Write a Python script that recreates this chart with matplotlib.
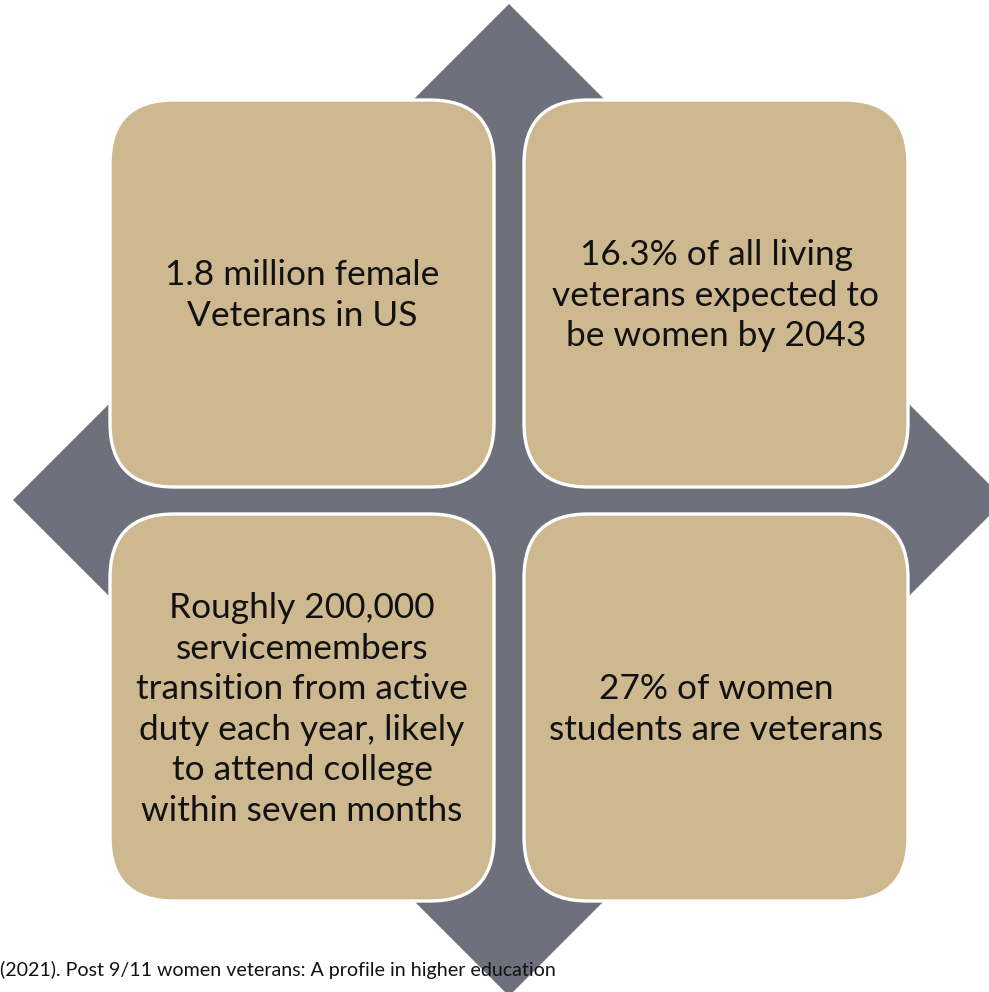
import matplotlib.pyplot as plt
from matplotlib.patches import FancyBboxPatch, Polygon

# Data / text content
quadrant_labels = [
    "1.8 million female\nVeterans in US",
    "16.3% of all living\nveterans expected to\nbe women by 2043",
    "Roughly 200,000\nservicemembers\ntransition from active\nduty each year, likely\nto attend college\nwithin seven months",
    "27% of women\nstudents are veterans",
]
citation = "(2021). Post 9/11 women veterans: A profile in higher education"

W, H = 989, 992
fig = plt.figure(figsize=(W / 100, H / 100), dpi=100)
ax = fig.add_axes([0, 0, 1, 1])
ax.set_xlim(0, W)
ax.set_ylim(H, 0)
ax.axis("off")

gray = "#6e717c"
tan = "#ceb88f"
font = ["Lato", "DejaVu Sans"]

cx, cy, r = 509, 500, 496
ax.add_patch(Polygon([(cx, cy - r), (cx + r, cy), (cx, cy + r), (cx - r, cy)],
                     closed=True, facecolor=gray, edgecolor="none", zorder=1))

boxes = [(110, 100), (524, 100), (110, 514), (524, 514)]
bw, bh = 384, 387
for (x0, y0), label in zip(boxes, quadrant_labels):
    ax.add_patch(FancyBboxPatch((x0, y0), bw, bh,
                                boxstyle="round,pad=0,rounding_size=64",
                                facecolor=tan, edgecolor="white", linewidth=2.4,
                                zorder=2))
    ax.text(x0 + bw / 2, y0 + bh / 2 + 2, label, ha="center", va="center",
            fontsize=25.4, family=font, color="#111111", linespacing=1.33, zorder=3)

ax.text(0, 970, citation, ha="left", va="center", fontsize=14.1, family=font,
        color="#111111", zorder=4)

fig.savefig("out.png", dpi=100)
